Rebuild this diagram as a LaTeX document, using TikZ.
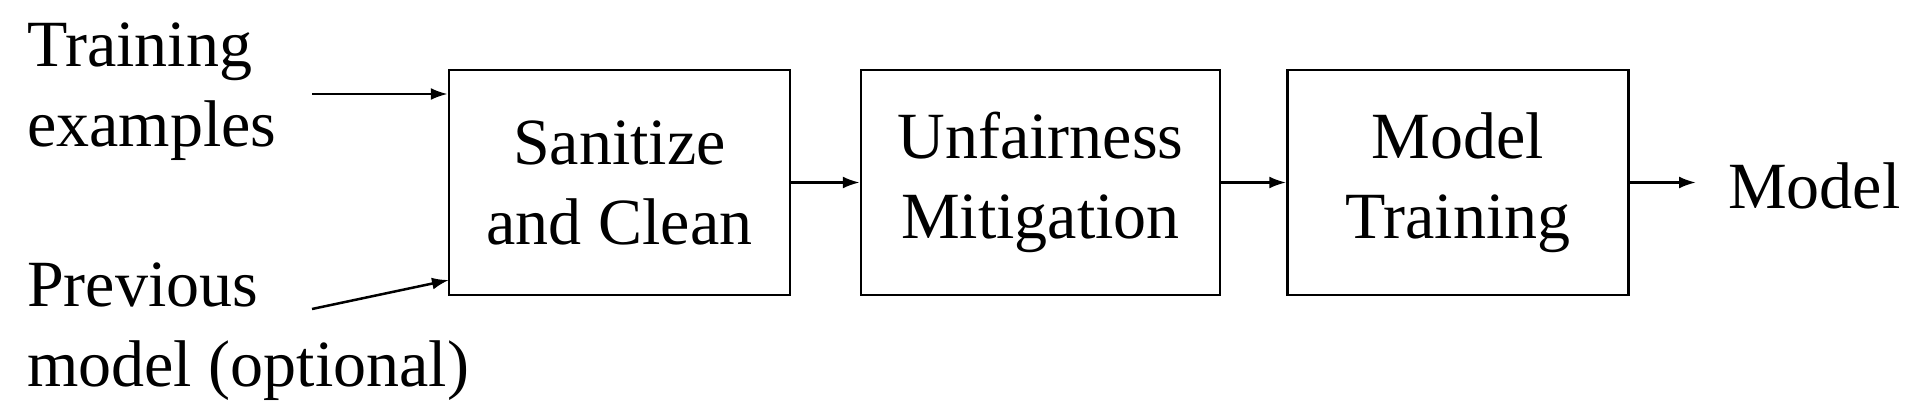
\documentclass[tikz,border=0pt]{standalone}
\usepackage{fontspec}
\setmainfont{Liberation Serif}
\usetikzlibrary{arrows.meta}
\begin{document}
\begin{tikzpicture}[x=1pt,y=-1pt,
  blk/.style={draw,line width=2.5pt,minimum width=341pt,align=center,minimum height=225pt,inner sep=0pt,font=\fontsize{66}{80}\selectfont},
  lbl/.style={align=left,inner sep=0pt,font=\fontsize{66}{80}\selectfont},
  arr/.style={-{Latex[length=17pt,width=12pt]},line width=2.5pt}]
\useasboundingbox (0,0) rectangle (1920,415);
\node[blk] (b1) at (619.5,182.5) {Sanitize\\and Clean};
\node[blk,minimum width=359pt] (b2) at (1040.5,182.5) {Unfairness\\Mitigation};
\node[blk] (b3) at (1458,182.5) {Model\\Training};
\node[lbl,anchor=west] (te) at (27,92) {Training\\examples};
\node[lbl,anchor=west] (pm) at (27,332) {Previous\\model (optional)};
\node[lbl,anchor=west] (m) at (1728,186) {Model};
\coordinate (s1) at (312,94);
\coordinate (s2) at (312,309);
\draw[arr] (s1) -- (b1.west |- s1);
\draw[arr] (s2) -- (449,280);
\draw[arr] (b1) -- (b2);
\draw[arr] (b2) -- (b3);
\draw[arr] (b3.east) -- (1696,182.5);
\end{tikzpicture}
\end{document}
